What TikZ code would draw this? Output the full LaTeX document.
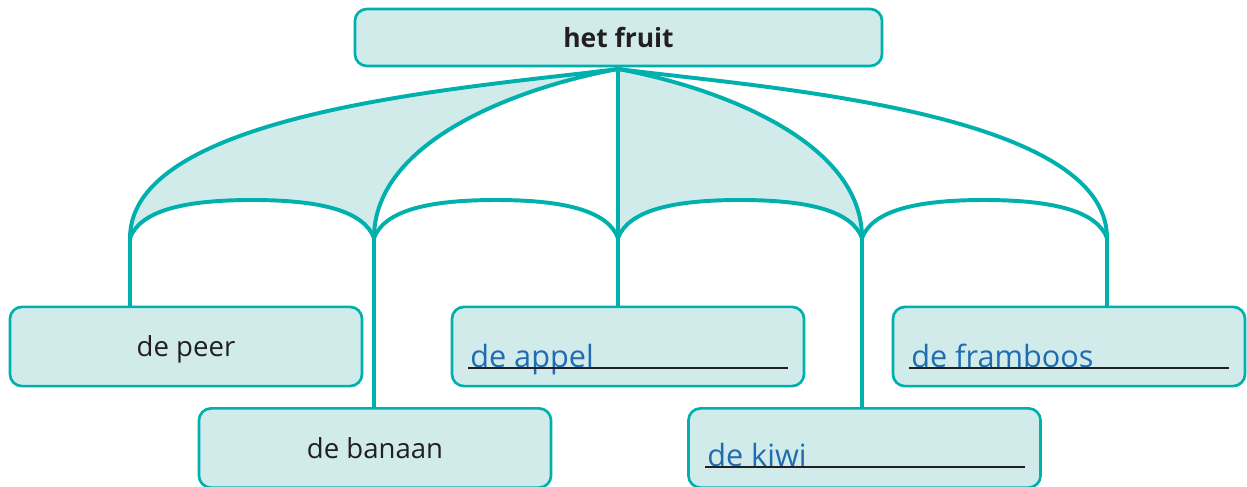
\documentclass[tikz,border=0pt]{standalone}
\usepackage{fontspec}
\setmainfont{Open Sans}
\usepackage[HTML]{xcolor}
\usetikzlibrary{positioning, calc, backgrounds}

\definecolor{fruitteal}{HTML}{00B0AD}
\definecolor{fruitfill}{HTML}{D1EBEB}
\definecolor{fruitblue}{HTML}{1F6DB0}
\definecolor{fruittext}{HTML}{231F20}

\begin{document}
\begin{tikzpicture}[x=0.025cm, y=-0.025cm,
  box/.style={draw=fruitteal, fill=fruitfill, line width=1.9pt, rounded corners=0.3cm,
    minimum width=8.8cm, minimum height=1.98cm, inner sep=0pt, text depth=0pt,
    font=\fontsize{19.6}{23}\selectfont, text=fruittext},
  stem/.style={draw=fruitteal, line width=2.8pt, line join=round},
  answer/.style={anchor=base west, inner sep=0pt, text=fruitblue, font=\fontsize{21.8}{26}\selectfont},
  underline/.style={draw=fruittext, line width=0.9pt}]
\useasboundingbox (0,0) rectangle (1247,486);

% boxes
\node[box, minimum width=13.175cm, minimum height=1.425cm,
  font=\fontsize{18.8}{22}\selectfont\bfseries] (fruit) at (618.5,37.5) {het fruit};
\node[box] (peer) at (186,346.5) {de peer};
\node[box] (banaan) at (375,448) {de banaan};
\node[box] (appel) at (628,346.5) {};
\node[box] (kiwi) at (864.5,448) {};
\node[box] (framboos) at (1069,346.5) {};

% filled in answers
\node[answer] (appeltxt) at (470,367) {de appel};
\node[answer] (kiwitxt) at (707,466) {de kiwi};
\node[answer] (frambtxt) at (911,367) {de framboos};
\draw[underline] (468,368) -- (788,368);
\draw[underline] (705,467) -- (1025,467);
\draw[underline] (909,368) -- (1229,368);

% junctions under the umbrella
\coordinate (top) at (618,69);
\coordinate (j1) at (130,238);
\coordinate (j2) at (374,238);
\coordinate (j3) at (618,238);
\coordinate (j4) at (862,238);
\coordinate (j5) at (1107,238);
\coordinate (a1) at (252,200);
\coordinate (a2) at (496,200);
\coordinate (a3) at (740,200);
\coordinate (a4) at (984,200);

\begin{scope}[on background layer]
% shaded panels
\fill[fruitfill] (top) .. controls +(-138,18) and +(0,-128) .. (j1)
  .. controls +(10,-26) and +(-72,0) .. (a1) .. controls +(72,0) and +(-10,-26) .. (j2)
  .. controls +(0,-98) and +(-98,18) .. (top) -- cycle;
\fill[fruitfill] (top) -- (j3)
  .. controls +(10,-26) and +(-72,0) .. (a3) .. controls +(72,0) and +(-10,-26) .. (j4)
  .. controls +(0,-98) and +(98,18) .. (top) -- cycle;
% ribs
\draw[stem] (top) .. controls +(-138,18) and +(0,-128) .. (j1);
\draw[stem] (top) .. controls +(-98,18) and +(0,-98) .. (j2);
\draw[stem] (top) .. controls +(98,18) and +(0,-98) .. (j4);
\draw[stem] (top) .. controls +(138,18) and +(0,-128) .. (j5);
% small arcs
\foreach \i/\k in {1/2, 2/3, 3/4, 4/5}
  \draw[stem] (j\i) .. controls +(10,-26) and +(-72,0) .. (a\i)
    .. controls +(72,0) and +(-10,-26) .. (j\k);
% stems down to the boxes
\draw[stem] (j1) -- (j1 |- peer.north);
\draw[stem] (j2) -- (j2 |- banaan.north);
\draw[stem] (top) -- (top |- appel.north);
\draw[stem] (j4) -- (j4 |- kiwi.north);
\draw[stem] (j5) -- (j5 |- framboos.north);
\end{scope}
\end{tikzpicture}
\end{document}
